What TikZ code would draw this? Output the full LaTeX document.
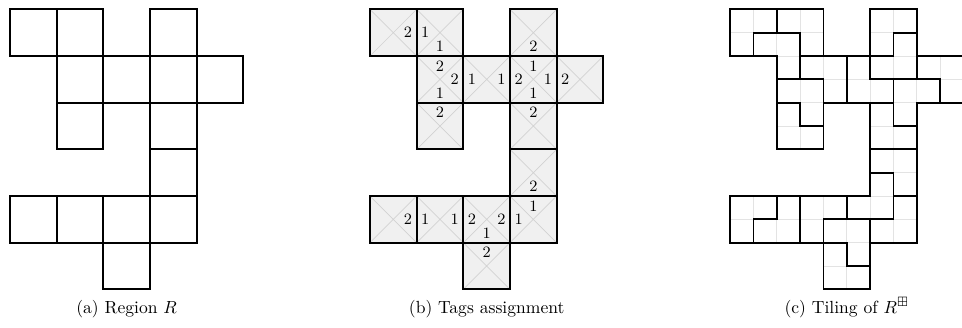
\documentclass[tikz,border=0pt]{standalone}
\usepackage{amssymb}
\tikzset{
  cellA/.style={draw=black, line width=1pt, minimum size=26.56pt, inner sep=0pt, outer sep=0pt},
  cellB/.style={draw=black, fill=gray!12, line width=1pt, minimum size=26.56pt, inner sep=0pt, outer sep=0pt},
  diag/.style={draw=gray!35, line width=0.4pt},
  subgrid/.style={draw=gray!22, line width=0.5pt},
  tile/.style={draw=black, line width=1pt, line join=miter},
  tagnum/.style={font=\small, inner sep=2.4pt},
  capt/.style={anchor=base, font=\normalsize}
}
\begin{document}
\begin{tikzpicture}[x=26.56pt, y=-26.56pt]
\useasboundingbox (0,0) rectangle (20.613,7.007);
% ---------- (a) Region R
\begin{scope}[shift={(0.2143,0.2)}]
\foreach \c/\r in {0/0,1/0,3/0,1/1,2/1,3/1,4/1,1/2,3/2,3/3,0/4,1/4,2/4,3/4,2/5}
  \node[cellA] (a-\c-\r) at (\c+0.5,\r+0.5) {};
\end{scope}
% ---------- (b) Tags assignment
\begin{scope}[shift={(7.928,0.2)}]
\foreach \c/\r in {0/0,1/0,3/0,1/1,2/1,3/1,4/1,1/2,3/2,3/3,0/4,1/4,2/4,3/4,2/5}{
  \node[cellB] (b-\c-\r) at (\c+0.5,\r+0.5) {};
  \draw[diag] (b-\c-\r.north west) -- (b-\c-\r.south east)
              (b-\c-\r.north east) -- (b-\c-\r.south west);
}
\foreach \c/\r in {0/0,1/0,3/0,1/1,2/1,3/1,4/1,1/2,3/2,3/3,0/4,1/4,2/4,3/4,2/5}
  \draw[line width=1pt] (b-\c-\r.north west) rectangle (b-\c-\r.south east);
\foreach \c/\r/\a/\t [count=\k] in {
  0/0/east/2, 1/0/west/1, 1/0/south/1, 3/0/south/2,
  1/1/north/2, 1/1/east/2, 1/1/south/1, 2/1/west/1, 2/1/east/1,
  3/1/north/1, 3/1/west/2, 3/1/east/1, 3/1/south/1, 4/1/west/2,
  1/2/north/2, 3/2/north/2, 3/3/south/2,
  0/4/east/2, 1/4/west/1, 1/4/east/1, 2/4/west/2, 2/4/east/2, 2/4/south/1,
  3/4/north/1, 3/4/west/1, 2/5/north/2}
  \node[tagnum, anchor=\a] (tag\k) at (b-\c-\r.\a) {\t};
\end{scope}
% ---------- (c) Tiling
\begin{scope}[shift={(15.643,0.2)}, x=13.28pt, y=-13.28pt]
\foreach \c/\r in {0/0,1/0,3/0,1/1,2/1,3/1,4/1,1/2,3/2,3/3,0/4,1/4,2/4,3/4,2/5}{
  \draw[subgrid] (2*\c,2*\r) rectangle (2*\c+2,2*\r+2)
                 (2*\c+1,2*\r) -- (2*\c+1,2*\r+2)
                 (2*\c,2*\r+1) -- (2*\c+2,2*\r+1);
}
\foreach \p in {
  {(0,0)--(2,0)--(2,1)--(1,1)--(1,2)--(0,2)--cycle},
  {(2,0)--(4,0)--(4,2)--(3,2)--(3,1)--(2,1)--cycle},
  {(1,1)--(3,1)--(3,3)--(2,3)--(2,2)--(1,2)--cycle},
  {(3,2)--(5,2)--(5,4)--(4,4)--(4,3)--(3,3)--cycle},
  {(2,3)--(4,3)--(4,5)--(3,5)--(3,4)--(2,4)--cycle},
  {(2,4)--(3,4)--(3,5)--(4,5)--(4,6)--(2,6)--cycle},
  {(6,0)--(8,0)--(8,1)--(7,1)--(7,2)--(6,2)--cycle},
  {(7,1)--(8,1)--(8,3)--(6,3)--(6,2)--(7,2)--cycle},
  {(5,2)--(6,2)--(6,3)--(7,3)--(7,4)--(5,4)--cycle},
  {(8,2)--(10,2)--(10,4)--(9,4)--(9,3)--(8,3)--cycle},
  {(7,3)--(9,3)--(9,4)--(8,4)--(8,5)--(7,5)--cycle},
  {(6,4)--(7,4)--(7,5)--(8,5)--(8,6)--(6,6)--cycle},
  {(6,6)--(8,6)--(8,8)--(7,8)--(7,7)--(6,7)--cycle},
  {(6,7)--(7,7)--(7,9)--(5,9)--(5,8)--(6,8)--cycle},
  {(7,8)--(8,8)--(8,10)--(6,10)--(6,9)--(7,9)--cycle},
  {(0,8)--(2,8)--(2,9)--(1,9)--(1,10)--(0,10)--cycle},
  {(2,8)--(3,8)--(3,10)--(1,10)--(1,9)--(2,9)--cycle},
  {(3,8)--(5,8)--(5,9)--(4,9)--(4,10)--(3,10)--cycle},
  {(4,9)--(6,9)--(6,11)--(5,11)--(5,10)--(4,10)--cycle},
  {(4,10)--(5,10)--(5,11)--(6,11)--(6,12)--(4,12)--cycle}}
  \draw[tile] \p;
\end{scope}
% ---------- captions
\node[capt] (capA) at (2.714,6.71) {(a) Region $R$};
\node[capt] (capB) at (10.428,6.71) {(b) Tags assignment};
\node[capt] (capC) at (18.143,6.71) {(c) Tiling of $R^{\boxplus}$};
\end{tikzpicture}
\end{document}
